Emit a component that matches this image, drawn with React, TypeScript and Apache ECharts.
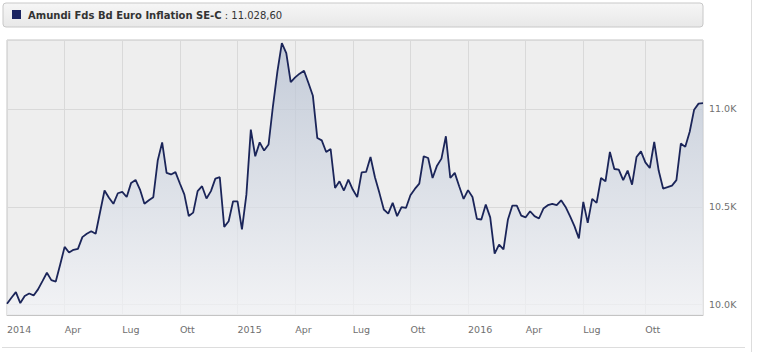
import React, { useEffect, useRef } from "react";
import * as echarts from "echarts";

const seriesName = "Amundi Fds Bd Euro Inflation SE-C";
const lastValueLabel = "11.028,60";
const firstDate = "2014-01-03"; // weekly (Friday) observations
const monthNames = ["Gen", "Feb", "Mar", "Apr", "Mag", "Giu", "Lug", "Ago", "Set", "Ott", "Nov", "Dic"];

const values2014 = [
  10004, 10035, 10064, 10008, 10044, 10057, 10047, 10078, 10120, 10163,
  10125, 10118, 10205, 10295, 10266, 10280, 10285, 10345, 10362, 10375,
  10362, 10473, 10583, 10546, 10515, 10569, 10576, 10550, 10622, 10637,
  10588, 10515, 10533, 10549, 10736, 10829, 10673, 10665, 10677, 10619,
  10563, 10453, 10470, 10580, 10605, 10542, 10580, 10644, 10651, 10397,
  10426, 10528,
];
const values2015 = [
  10528, 10384, 10562, 10894, 10758, 10829, 10787, 10818, 11016, 11192,
  11336, 11285, 11137, 11161, 11180, 11195, 11132, 11067, 10851, 10839,
  10780, 10795, 10596, 10630, 10583, 10639, 10588, 10549, 10676, 10678,
  10754, 10651, 10571, 10486, 10465, 10520, 10452, 10498, 10494, 10559,
  10591, 10618, 10758, 10749, 10647, 10710, 10746, 10860, 10647, 10673,
  10605, 10540,
];
const values2016 = [
  10585, 10550, 10438, 10435, 10511, 10446, 10261, 10307, 10282, 10435,
  10506, 10506, 10455, 10446, 10477, 10452, 10440, 10491, 10508, 10515,
  10508, 10533, 10499, 10452, 10401, 10338, 10525, 10418, 10540, 10520,
  10647, 10630, 10780, 10693, 10690, 10636, 10685, 10613, 10754, 10783,
  10727, 10698, 10831, 10685, 10593, 10600, 10608, 10636, 10823, 10806,
  10883, 10996, 11027, 11029,
];

const values = [...values2014, ...values2015, ...values2016];

function buildDates(start: string, count: number): string[] {
  const out: string[] = [];
  const t0 = Date.parse(start + "T00:00:00Z");
  for (let i = 0; i < count; i++) {
    out.push(new Date(t0 + i * 7 * 86400000).toISOString().slice(0, 10));
  }
  return out;
}

const dates = buildDates(firstDate, values.length);

function isQuarterStart(index: number): boolean {
  if (index >= dates.length - 1) return false;
  if (index === 0) return true;
  const m = Number(dates[index].slice(5, 7)) - 1;
  const pm = Number(dates[index - 1].slice(5, 7)) - 1;
  return m !== pm && m % 3 === 0;
}

export default function App() {
  const ref = useRef<HTMLDivElement>(null);

  useEffect(() => {
    if (!ref.current) return;
    const chart = echarts.init(ref.current, undefined, { renderer: "svg" });
    const font = "DejaVu Sans, Verdana, sans-serif";
    chart.setOption({
      animation: false,
      backgroundColor: "#ffffff",
      textStyle: { fontFamily: font },
      grid: {
        left: 7,
        top: 40,
        width: 696,
        height: 275,
        show: true,
        backgroundColor: "#eeeeee",
        borderColor: "#c4c4c4",
        borderWidth: 1,
      },
      xAxis: {
        type: "category",
        data: dates,
        boundaryGap: false,
        axisLine: { show: true, lineStyle: { color: "#c4c4c4" } },
        axisTick: { show: false },
        axisLabel: {
          interval: (i: number) => isQuarterStart(i),
          align: "left",
          margin: 9,
          color: "#707070",
          fontSize: 9.5,
          fontFamily: font,
          formatter: (v: string) => {
            const m = Number(v.slice(5, 7)) - 1;
            return m === 0 ? v.slice(0, 4) : monthNames[m];
          },
        },
        splitLine: {
          show: true,
          interval: (i: number) => isQuarterStart(i),
          lineStyle: { color: "#d9d9d9", width: 1 },
        },
      },
      yAxis: {
        type: "value",
        position: "right",
        min: 9947,
        max: 11352,
        splitNumber: 3,
        minInterval: 500,
        maxInterval: 500,
        axisLine: { show: false },
        axisTick: { show: false },
        axisLabel: {
          showMinLabel: false,
          showMaxLabel: false,
          margin: 6,
          color: "#707070",
          fontSize: 9.5,
          fontFamily: font,
          formatter: (v: number) => (v / 1000).toFixed(1) + "K",
        },
        splitLine: { show: true, lineStyle: { color: "#d9d9d9", width: 1 } },
      },
      series: [
        {
          name: seriesName,
          type: "line",
          data: values,
          symbol: "none",
          lineStyle: { color: "#1b2559", width: 1.8 },
          itemStyle: { color: "#1b2559" },
          areaStyle: {
            color: new echarts.graphic.LinearGradient(0, 0, 0, 1, [
              { offset: 0, color: "#b2bdcf" },
              { offset: 1, color: "#f4f5f8" },
            ]),
          },
        },
      ],
      graphic: [
        {
          type: "rect",
          shape: { x: 3, y: 3, width: 700, height: 24, r: 3 },
          style: {
            fill: new echarts.graphic.LinearGradient(0, 0, 0, 1, [
              { offset: 0, color: "#f6f6f6" },
              { offset: 1, color: "#e8e8e8" },
            ]),
            stroke: "#c8c8c8",
            lineWidth: 1,
          },
        },
        {
          type: "rect",
          shape: { x: 12, y: 10, width: 9, height: 9 },
          style: { fill: "#1b2461" },
        },
        {
          type: "text",
          x: 28,
          y: 15,
          style: {
            text: "{b|" + seriesName + "}{n| : " + lastValueLabel + "}",
            verticalAlign: "middle",
            rich: {
              b: { fontFamily: font, fontWeight: "bold", fontSize: 10, fill: "#333333" },
              n: { fontFamily: font, fontSize: 10, fill: "#333333" },
            },
          },
        },
        {
          type: "line",
          shape: { x1: 751.5, y1: 0, x2: 751.5, y2: 352 },
          style: { stroke: "#dddddd", lineWidth: 1 },
        },
        {
          type: "line",
          shape: { x1: 2, y1: 347.5, x2: 745, y2: 347.5 },
          style: { stroke: "#dddddd", lineWidth: 1 },
        },
      ],
    });
    return () => chart.dispose();
  }, []);

  return (
    <div
      ref={ref}
      style={{ position: "fixed", left: 0, top: 0, width: 759, height: 354 }}
    />
  );
}
